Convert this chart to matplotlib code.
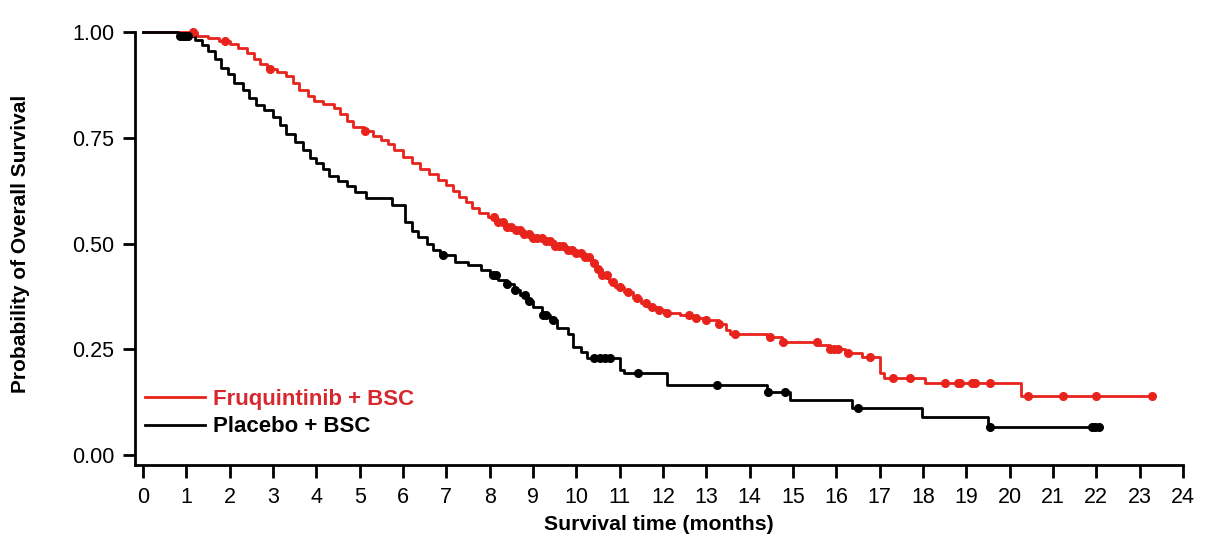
import numpy as np
import matplotlib
matplotlib.use("Agg")
import matplotlib.pyplot as plt

plt.rcParams['font.family'] = ['Liberation Sans', 'DejaVu Sans']

# Fruquintinib + BSC : step times (months) and survival probability
fru_t = [0, 1.25, 1.5, 1.75, 2.0, 2.2, 2.4, 2.55, 2.7, 2.85, 3.1, 3.3, 3.45, 3.6, 3.8,
         3.95, 4.15, 4.4, 4.55, 4.7, 4.85, 5.1, 5.3, 5.5, 5.65, 5.8, 6.0, 6.2, 6.4, 6.6,
         6.8, 7.0, 7.15, 7.3, 7.45, 7.6, 7.75, 7.95, 8.15, 8.35, 8.55, 8.8, 9.0, 9.25,
         9.5, 9.75, 10.0, 10.2, 10.35, 10.45, 10.6, 10.75, 10.9, 11.1, 11.3, 11.5, 11.65,
         11.85, 12.1, 12.4, 12.7, 13.0, 13.3, 13.45, 13.55, 14.4, 14.75, 15.6, 15.85,
         16.2, 16.6, 17.0, 17.1, 18.05, 20.25, 23.3]
fru_s = [1.0, 0.99, 0.985, 0.978, 0.972, 0.962, 0.95, 0.935, 0.925, 0.912, 0.905, 0.895,
         0.88, 0.862, 0.848, 0.836, 0.83, 0.82, 0.805, 0.79, 0.775, 0.765, 0.755, 0.745,
         0.735, 0.72, 0.705, 0.69, 0.675, 0.665, 0.65, 0.638, 0.625, 0.61, 0.598, 0.585,
         0.572, 0.562, 0.55, 0.54, 0.532, 0.522, 0.513, 0.505, 0.495, 0.485, 0.477, 0.468,
         0.455, 0.44, 0.425, 0.41, 0.398, 0.385, 0.372, 0.36, 0.35, 0.342, 0.336, 0.33,
         0.324, 0.318, 0.31, 0.295, 0.287, 0.279, 0.267, 0.26, 0.25, 0.24, 0.232, 0.194,
         0.182, 0.17, 0.14, 0.14]
fru_cens = [1.15, 1.9, 2.93, 5.12, 8.1, 8.2, 8.3, 8.4, 8.5, 8.6, 8.7, 8.8, 8.9, 9.0, 9.1,
            9.2, 9.3, 9.4, 9.5, 9.6, 9.7, 9.8, 9.9, 10.0, 10.1, 10.2, 10.3, 10.4, 10.5,
            10.6, 10.7, 10.85, 11.0, 11.2, 11.4, 11.6, 11.75, 11.9, 12.1, 12.6, 12.75,
            13.0, 13.3, 13.66, 14.47, 14.77, 15.55, 15.85, 15.95, 16.04, 16.27, 16.78,
            17.3, 17.7, 18.5, 18.8, 18.85, 19.13, 19.2, 19.55, 20.42, 21.23, 22.0, 23.28]

# Placebo + BSC
pla_t = [0, 0.8, 1.2, 1.35, 1.5, 1.65, 1.8, 1.95, 2.1, 2.3, 2.45, 2.6, 2.8, 3.0, 3.15,
         3.3, 3.5, 3.7, 3.85, 4.0, 4.15, 4.3, 4.5, 4.7, 4.9, 5.15, 5.75, 6.05, 6.2, 6.35,
         6.55, 6.7, 6.85, 7.2, 7.5, 7.8, 8.0, 8.2, 8.4, 8.55, 8.7, 8.85, 9.0, 9.2, 9.4,
         9.55, 9.8, 9.93, 10.1, 10.25, 11.0, 11.1, 12.1, 14.4, 14.93, 16.35, 17.98, 19.5,
         22.05]
pla_s = [1.0, 0.99, 0.98, 0.97, 0.955, 0.935, 0.915, 0.9, 0.88, 0.862, 0.845, 0.828,
         0.815, 0.8, 0.78, 0.76, 0.74, 0.72, 0.703, 0.69, 0.675, 0.66, 0.648, 0.636,
         0.622, 0.607, 0.59, 0.55, 0.53, 0.515, 0.5, 0.485, 0.473, 0.456, 0.45, 0.437,
         0.425, 0.414, 0.405, 0.39, 0.378, 0.365, 0.35, 0.33, 0.318, 0.3, 0.285, 0.255,
         0.243, 0.229, 0.2, 0.193, 0.165, 0.149, 0.13, 0.111, 0.09, 0.066, 0.066]
pla_cens = [0.85, 0.92, 0.98, 1.04, 6.92, 8.08, 8.15, 8.4, 8.58, 8.82, 8.9, 9.23, 9.3,
            9.46, 10.4, 10.55, 10.65, 10.78, 11.42, 13.25, 14.42, 14.82, 16.5, 19.55,
            21.9, 21.98, 22.05]

RED = '#e8231c'


def at(t, s, c):
    i = np.searchsorted(t, c, side='right') - 1
    return np.asarray(s)[i]


fig = plt.figure(figsize=(12.06, 5.38), dpi=100)
ax = fig.add_axes([135 / 1206, 1 - 465 / 538, 1048 / 1206, 433 / 538])

ax.step(fru_t, fru_s, where='post', color=RED, lw=2, label='Fruquintinib + BSC', clip_on=False)
ax.step(pla_t, pla_s, where='post', color='black', lw=2, label='Placebo + BSC', clip_on=False)
ax.plot(fru_cens, at(fru_t, fru_s, fru_cens), 'o', color=RED, ms=5.5, clip_on=False)
ax.plot(pla_cens, at(pla_t, pla_s, pla_cens), 'o', color='black', ms=5.5, clip_on=False)

ax.set_xlim(-0.185, 24)
ax.set_ylim(-0.0236, 1.0)
ax.set_xticks(range(0, 25))
ax.set_yticks([0, 0.25, 0.5, 0.75, 1.0])
ax.set_yticklabels(['0.00', '0.25', '0.50', '0.75', '1.00'])

for side in ['top', 'right']:
    ax.spines[side].set_visible(False)
for side in ['left', 'bottom']:
    ax.spines[side].set_linewidth(2)
ax.tick_params(axis='both', length=9, width=2, labelsize=15.5, pad=6)
ax.tick_params(axis='x', pad=7)

ax.set_xlabel('Survival time (months)', fontsize=15.3, fontweight='bold', labelpad=5)
ax.set_ylabel('Probability of Overall Survival', fontsize=15, fontweight='bold')
ax.yaxis.set_label_coords(-0.1, 0.51)

ax.legend(loc='center left', bbox_to_anchor=(0.0095, 0.12), frameon=False,
          prop={'weight': 'bold', 'size': 16}, labelcolor=['#d7282f', 'black'],
          handlelength=2.7, handletextpad=0.35, labelspacing=0.3, borderpad=0, borderaxespad=0)

fig.savefig('out.png', dpi=100)
